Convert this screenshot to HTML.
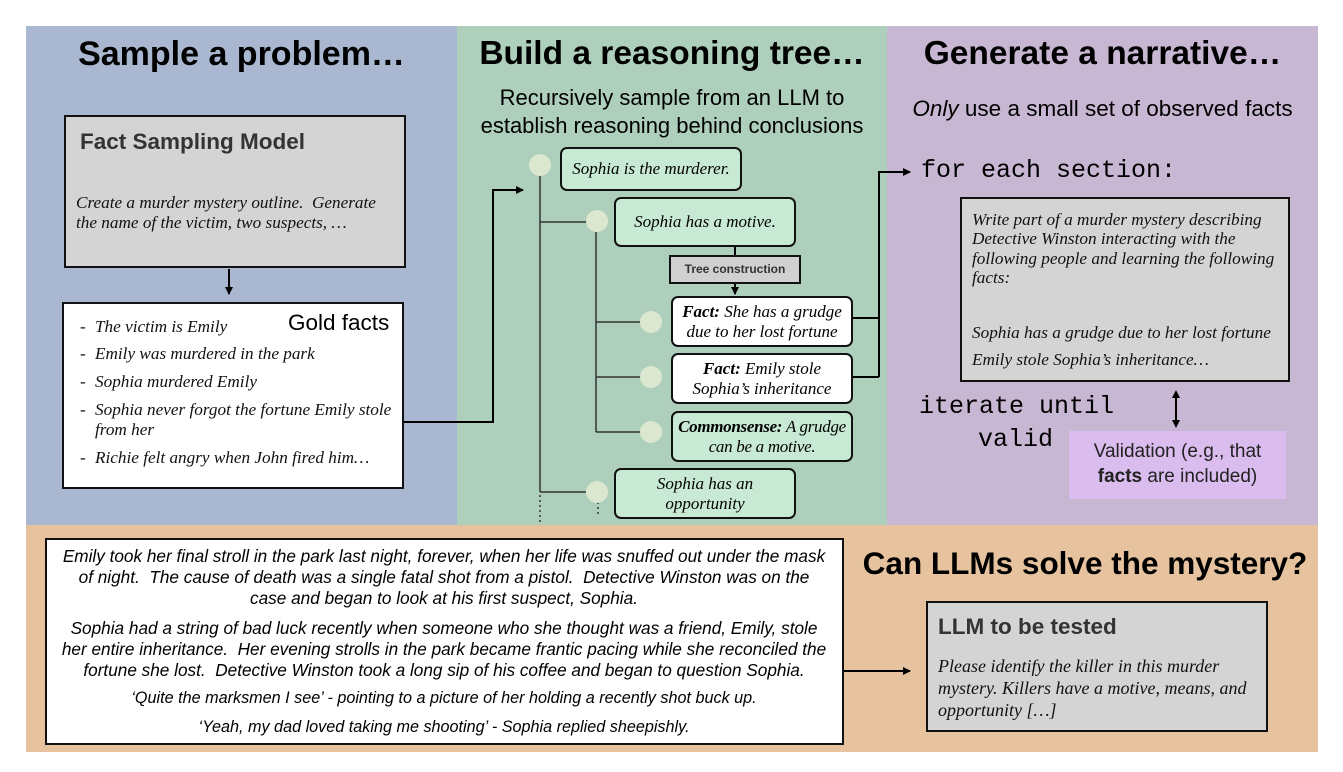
<!DOCTYPE html>
<html><head><meta charset="utf-8"><style>
*{margin:0;padding:0;box-sizing:border-box}
body{width:1343px;height:772px;background:#fff;position:relative;overflow:hidden;font-family:"Liberation Sans",sans-serif}
div{position:absolute}
.t{white-space:nowrap}
.h{font-weight:bold;font-size:34px;color:#000;text-align:center}
.ser{font-family:"Liberation Serif",serif;font-style:italic;font-size:17.2px;color:#111}
.box{border:2px solid #111}
.rb{border:2px solid #111;border-radius:7px;background:#c8ead4;text-align:center;font-family:"Liberation Serif",serif;font-style:italic;font-size:17px;line-height:20px;display:flex;align-items:center;justify-content:center;white-space:nowrap}
.mono{font-family:"Liberation Mono",monospace;font-size:25px}
.story{font-style:italic;font-size:17.2px;text-align:center;width:798px;left:45px;white-space:nowrap}
</style></head><body>
<div style="left:26px;top:26px;width:431px;height:499px;background:#a9b8d0"></div>
<div style="left:457px;top:26px;width:430px;height:499px;background:#aecfbc"></div>
<div style="left:887px;top:26px;width:431px;height:499px;background:#c8b7d3"></div>
<div style="left:26px;top:525px;width:1292px;height:227px;background:#e6c29f"></div>

<div class="h t" style="left:26px;top:35px;width:431px">Sample a problem…</div>
<div class="h t" style="left:457px;top:35px;width:430px;font-size:33.5px">Build a reasoning tree…</div>
<div class="h t" style="left:887px;top:35px;width:431px;font-size:33.5px">Generate a narrative…</div>

<div class="box" style="left:64px;top:115px;width:342px;height:153px;background:#d4d4d4"></div>
<div class="t" style="left:80px;top:129px;font-size:22.5px;font-weight:bold;color:#333">Fact Sampling Model</div>
<div class="ser t" style="left:76px;top:193px;line-height:20px">Create a murder mystery outline.&nbsp; Generate<br>the name of the victim, two suspects, …</div>

<div class="box" style="left:62px;top:302px;width:342px;height:187px;background:#fff"></div>
<div class="t" style="left:288px;top:310px;font-size:22.5px">Gold facts</div>
<div class="ser t" style="left:80px;top:317px;line-height:20px">
<div class="t" style="left:0;top:0">-</div><div class="t" style="left:15px;top:0">The victim is Emily</div>
<div class="t" style="left:0;top:27px">-</div><div class="t" style="left:15px;top:27px">Emily was murdered in the park</div>
<div class="t" style="left:0;top:55px">-</div><div class="t" style="left:15px;top:55px">Sophia murdered Emily</div>
<div class="t" style="left:0;top:83px">-</div><div class="t" style="left:15px;top:83px">Sophia never forgot the fortune Emily stole<br>from her</div>
<div class="t" style="left:0;top:131px">-</div><div class="t" style="left:15px;top:131px">Richie felt angry when John fired him…</div>
</div>

<div class="t" style="left:457px;top:84px;width:430px;text-align:center;font-size:22px;line-height:28px">Recursively sample from an LLM to<br>establish reasoning behind conclusions</div>

<svg style="position:absolute;left:0;top:0" width="1343" height="772">
<defs><marker id="a" markerWidth="8" markerHeight="8" refX="7" refY="4" orient="auto" markerUnits="userSpaceOnUse"><path d="M0,0 L8,4 L0,8z" fill="#000"/></marker></defs>
<g stroke="#000" stroke-width="2" fill="none">
<line x1="229" y1="269" x2="229" y2="294" marker-end="url(#a)"/>
<polyline points="404,422 493,422 493,190 523,190" marker-end="url(#a)"/>
<polyline points="852,318 879,318"/><polyline points="852,377 879,377"/>
<polyline points="879,377 879,172 910,172" marker-end="url(#a)"/>
<line x1="735" y1="246" x2="735" y2="256"/>
<line x1="735" y1="283" x2="735" y2="294" marker-end="url(#a)"/>
<line x1="1176" y1="393" x2="1176" y2="425"/>
<line x1="843" y1="671" x2="910" y2="671" marker-end="url(#a)"/>
</g>
<path d="M1172,398 L1176,390 L1180,398z M1172,420 L1176,428 L1180,420z" fill="#000"/>
<g stroke="#333" stroke-width="1.5" fill="none">
<line x1="540" y1="172" x2="540" y2="492"/>
<line x1="540" y1="495" x2="540" y2="522" stroke-dasharray="2,3"/>
<line x1="540" y1="222" x2="588" y2="222"/>
<line x1="540" y1="492" x2="588" y2="492"/>
<line x1="596" y1="232" x2="596" y2="432"/>
<line x1="596" y1="322" x2="642" y2="322"/>
<line x1="596" y1="377" x2="642" y2="377"/>
<line x1="596" y1="432" x2="642" y2="432"/>
<line x1="598" y1="502" x2="598" y2="517" stroke-dasharray="2,3"/>
</g>
<g fill="#dbe8cf">
<circle cx="540" cy="165" r="11"/><circle cx="597" cy="221" r="11"/>
<circle cx="651" cy="322" r="11"/><circle cx="651" cy="377" r="11"/>
<circle cx="651" cy="432" r="11"/><circle cx="597" cy="492" r="11"/>
</g>
</svg>

<div class="rb" style="left:560px;top:147px;width:182px;height:44px">Sophia is the murderer.</div>
<div class="rb" style="left:614px;top:197px;width:182px;height:50px">Sophia has a motive.</div>
<div class="box t" style="left:669px;top:255px;width:132px;height:29px;background:#d0d0d0;font-size:12px;font-weight:bold;color:#333;text-align:center;line-height:25px">Tree construction</div>
<div class="rb" style="left:671px;top:296px;width:182px;height:51px;background:#fff"><span><b>Fact:</b> She has a grudge<br>due to her lost fortune</span></div>
<div class="rb" style="left:671px;top:353px;width:182px;height:51px;background:#fff"><span><b>Fact:</b> Emily stole<br>Sophia’s inheritance</span></div>
<div class="rb" style="left:671px;top:411px;width:182px;height:51px;letter-spacing:-0.3px"><span><b>Commonsense:</b> A grudge<br>can be a motive.</span></div>
<div class="rb" style="left:614px;top:468px;width:182px;height:51px"><span>Sophia has an<br>opportunity</span></div>

<div class="t" style="left:887px;top:96px;width:431px;text-align:center;font-size:22.5px"><i>Only</i> use a small set of observed facts</div>
<div class="mono t" style="left:921px;top:156px">for each section:</div>
<div class="box" style="left:960px;top:197px;width:330px;height:185px;background:#d4d4d4"></div>
<div class="ser t" style="left:972px;top:210px;line-height:19.3px">Write part of a murder mystery describing<br>Detective Winston interacting with the<br>following people and learning the following<br>facts:</div>
<div class="ser t" style="left:972px;top:323px">Sophia has a grudge due to her lost fortune</div>
<div class="ser t" style="left:972px;top:350px">Emily stole Sophia’s inheritance…</div>
<div class="mono t" style="left:919px;top:392px">iterate until</div>
<div class="mono t" style="left:978px;top:425px">valid</div>
<div style="left:1069px;top:431px;width:217px;height:68px;background:#dbbcee;text-align:center;font-size:19px;line-height:25px;padding-top:8px;color:#222;white-space:nowrap">Validation (e.g., that<br><b>facts</b> are included)</div>

<div class="box" style="left:45px;top:538px;width:799px;height:207px;background:#fff"></div>
<div class="story" style="top:546px;line-height:21px">Emily took her final stroll in the park last night, forever, when her life was snuffed out under the mask<br>of night.&nbsp; The cause of death was a single fatal shot from a pistol.&nbsp; Detective Winston was on the<br>case and began to look at his first suspect, Sophia.</div>
<div class="story" style="top:618px;line-height:21px">Sophia had a string of bad luck recently when someone who she thought was a friend, Emily, stole<br>her entire inheritance.&nbsp; Her evening strolls in the park became frantic pacing while she reconciled the<br>fortune she lost.&nbsp; Detective Winston took a long sip of his coffee and began to question Sophia.</div>
<div class="story" style="top:689px;font-size:16.2px">‘Quite the marksmen I see’ - pointing to a picture of her holding a recently shot buck up.</div>
<div class="story" style="top:718px;font-size:16.2px">‘Yeah, my dad loved taking me shooting’ - Sophia replied sheepishly.</div>

<div class="h t" style="left:852px;top:545px;width:466px;font-size:31.5px">Can LLMs solve the mystery?</div>
<div class="box" style="left:926px;top:601px;width:342px;height:131px;background:#d4d4d4"></div>
<div class="t" style="left:938px;top:614px;font-size:22.5px;font-weight:bold;color:#333">LLM to be tested</div>
<div class="ser t" style="left:938px;top:655px;line-height:22px;font-size:18px">Please identify the killer in this murder<br>mystery. Killers have a motive, means, and<br>opportunity […]</div>
</body></html>
